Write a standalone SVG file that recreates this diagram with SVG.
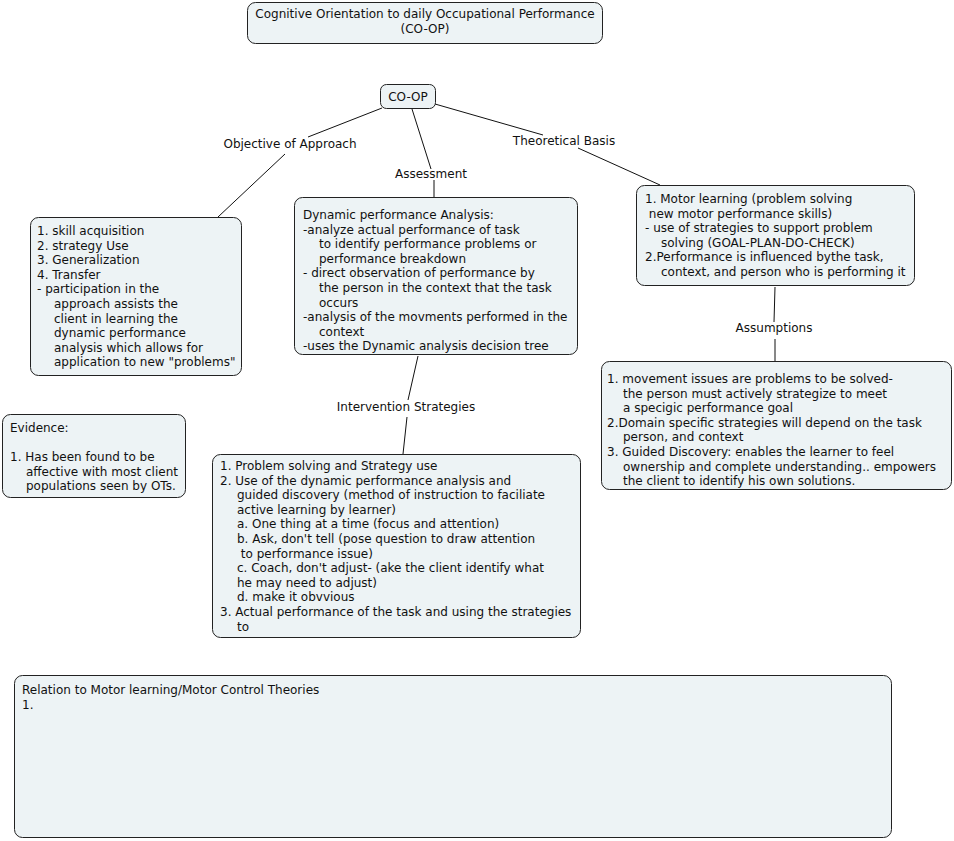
<svg xmlns="http://www.w3.org/2000/svg" width="954" height="841" viewBox="0 0 954 841">
<style>
.n{fill:#edf3f5;stroke:#222;stroke-width:1}
text{font-family:"DejaVu Sans",Verdana,sans-serif;font-size:12px;fill:#111}
.c{text-anchor:middle}
.l line{stroke:#111;stroke-width:1}
</style>
<rect width="954" height="841" fill="#fff"/>
<g class="l" id="connectors">
<line x1="382" y1="108" x2="308" y2="137"/>
<line x1="285" y1="154" x2="218" y2="217"/>
<line x1="412" y1="109" x2="431" y2="169"/>
<line x1="434" y1="180" x2="434" y2="197"/>
<line x1="435" y1="104" x2="543" y2="135"/>
<line x1="578" y1="148" x2="660" y2="185"/>
<line x1="418" y1="356" x2="408" y2="400"/>
<line x1="407" y1="417" x2="403" y2="454"/>
<line x1="775" y1="287" x2="774" y2="322"/>
<line x1="775" y1="339" x2="775" y2="361"/>
<text class="c" x="290" y="148">Objective of Approach</text>
<text class="c" x="431" y="178">Assessment</text>
<text class="c" x="564" y="145">Theoretical Basis</text>
<text class="c" x="406" y="411">Intervention Strategies</text>
<text class="c" x="774" y="332">Assumptions</text>
</g>
<g id="title">
<rect class="n" x="247.5" y="2.5" width="355" height="41" rx="8"/>
<text class="c" x="425" y="18">Cognitive Orientation to daily Occupational Performance</text>
<text class="c" x="425" y="33">(CO-OP)</text>
</g>
<g id="coop">
<rect class="n" x="380.5" y="84.5" width="55" height="24" rx="6"/>
<text class="c" x="408" y="101">CO-OP</text>
</g>
<g id="objective">
<rect class="n" x="30.5" y="217.5" width="211" height="158" rx="8"/>
<text x="37" y="235">1. skill acquisition</text>
<text x="37" y="249.6">2. strategy Use</text>
<text x="37" y="264.2">3. Generalization</text>
<text x="37" y="278.8">4. Transfer</text>
<text x="37" y="293.4">- participation in the</text>
<text x="54" y="308">approach assists the</text>
<text x="54" y="322.6">client in learning the</text>
<text x="54" y="337.2">dynamic performance</text>
<text x="54" y="351.8">analysis which allows for</text>
<text x="54" y="366.4">application to new "problems"</text>
</g>
<g id="dynamic">
<rect class="n" x="294.5" y="197.5" width="283" height="157" rx="8"/>
<text x="303" y="219">Dynamic performance Analysis:</text>
<text x="303" y="233.6">-analyze actual performance of task</text>
<text x="319" y="248.2">to identify performance problems or</text>
<text x="319" y="262.8">performance breakdown</text>
<text x="303" y="277.4">- direct observation of performance by</text>
<text x="319" y="292">the person in the context that the task</text>
<text x="319" y="306.6">occurs</text>
<text x="303" y="321.2">-analysis of the movments performed in the</text>
<text x="319" y="335.8">context</text>
<text x="303" y="350.4">-uses the Dynamic analysis decision tree</text>
</g>
<g id="theoretical">
<rect class="n" x="636.5" y="185.5" width="278" height="100" rx="8"/>
<text x="645" y="203">1. Motor learning (problem solving</text>
<text x="645" y="217.6" xml:space="preserve"> new motor performance skills)</text>
<text x="645" y="232.2">- use of strategies to support problem</text>
<text x="661" y="246.8">solving (GOAL-PLAN-DO-CHECK)</text>
<text x="645" y="261.4">2.Performance is influenced bythe task,</text>
<text x="661" y="276">context, and person who is performing it</text>
</g>
<g id="assumptions">
<rect class="n" x="601.5" y="361.5" width="350" height="128" rx="8"/>
<text x="607" y="383">1. movement issues are problems to be solved-</text>
<text x="623" y="397.6">the person must actively strategize to meet</text>
<text x="623" y="412.2">a specigic performance goal</text>
<text x="607" y="426.8">2.Domain specific strategies will depend on the task</text>
<text x="623" y="441.4">person, and context</text>
<text x="607" y="456">3. Guided Discovery: enables the learner to feel</text>
<text x="623" y="470.6">ownership and complete understanding.. empowers</text>
<text x="623" y="485.2">the client to identify his own solutions.</text>
</g>
<g id="evidence">
<rect class="n" x="2.5" y="414.5" width="183" height="83" rx="8"/>
<text x="10" y="432">Evidence:</text>
<text x="10" y="461">1. Has been found to be</text>
<text x="26" y="475.6">affective with most client</text>
<text x="26" y="490.2">populations seen by OTs.</text>
</g>
<g id="intervention">
<rect class="n" x="212.5" y="454.5" width="368" height="183" rx="8"/>
<text x="220" y="470">1. Problem solving and Strategy use</text>
<text x="220" y="484.6">2. Use of the dynamic performance analysis and</text>
<text x="237" y="499.2">guided discovery (method of instruction to faciliate</text>
<text x="237" y="513.8">active learning by learner)</text>
<text x="237" y="528.4">a. One thing at a time (focus and attention)</text>
<text x="237" y="543">b. Ask, don't tell (pose question to draw attention</text>
<text x="237" y="557.6" xml:space="preserve"> to performance issue)</text>
<text x="237" y="572.2">c. Coach, don't adjust- (ake the client identify what</text>
<text x="237" y="586.8">he may need to adjust)</text>
<text x="237" y="601.4">d. make it obvvious</text>
<text x="220" y="616">3. Actual performance of the task and using the strategies</text>
<text x="237" y="630.6">to</text>
</g>
<g id="relation">
<rect class="n" x="14.5" y="675.5" width="877" height="162" rx="8"/>
<text x="22" y="694">Relation to Motor learning/Motor Control Theories</text>
<text x="22" y="708.6">1.</text>
</g>
</svg>
